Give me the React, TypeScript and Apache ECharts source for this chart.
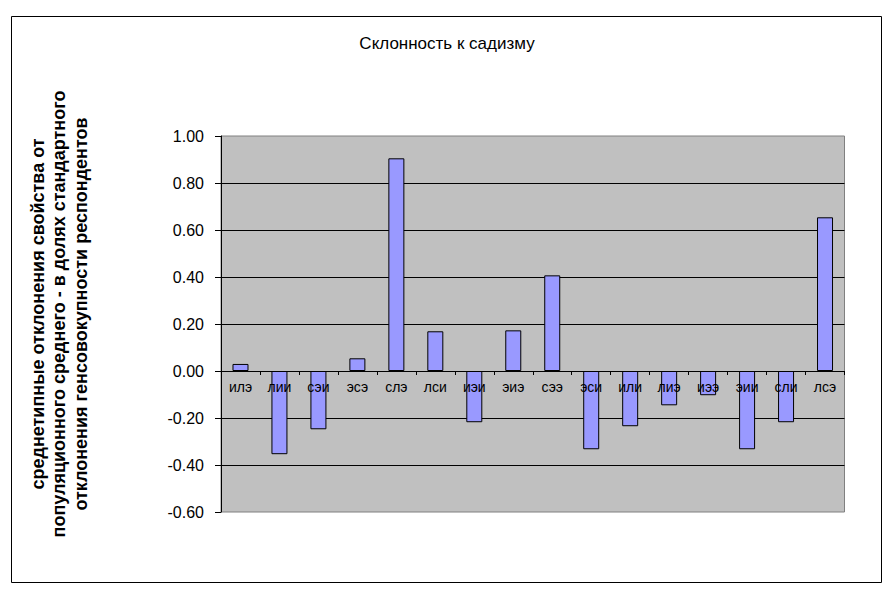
import React, { useEffect, useRef } from "react";
import * as echarts from "echarts";

const titleText = "Склонность к садизму";
const yAxisTitle = [
  "среднетипные отклонения свойства от",
  "популяционного среднего - в долях стандартного",
  "отклонения генсовокупности респондентов",
];
const categories = ["илэ", "лии", "сэи", "эсэ", "слэ", "лси", "иэи", "эиэ", "сээ", "эси", "или", "лиэ", "иээ", "эии", "сли", "лсэ"];
const values = [0.03, -0.354, -0.248, 0.054, 0.905, 0.169, -0.218, 0.173, 0.407, -0.333, -0.235, -0.146, -0.103, -0.333, -0.218, 0.654];
const yMin = -0.6;
const yMax = 1.0;
const yStep = 0.2;

const FONT = "'Liberation Sans', Arial, sans-serif";
const GRID_TOP = 136;
const GRID_HEIGHT = 376;

export default function App() {
  const ref = useRef<HTMLDivElement>(null);
  useEffect(() => {
    if (!ref.current) return;
    const chart = echarts.init(ref.current, undefined, { renderer: "svg" });
    // distance from the grid bottom to the value 0, used to lift the category axis onto zero
    const zeroOffset = (GRID_HEIGHT * (0 - yMin)) / (yMax - yMin);
    chart.setOption({
      animation: false,
      backgroundColor: "#ffffff",
      textStyle: { fontFamily: FONT },
      grid: {
        left: 221,
        top: GRID_TOP,
        width: 623.5,
        height: GRID_HEIGHT,
        show: true,
        backgroundColor: "#C0C0C0",
        borderColor: "#808080",
        borderWidth: 1,
        containLabel: false,
      },
      graphic: [
        {
          type: "rect",
          shape: { x: 11.5, y: 16.5, width: 870, height: 566 },
          style: { fill: "none", stroke: "#000000", lineWidth: 1 },
          silent: true,
          z: -10,
        },
        {
          type: "text",
          x: 447,
          y: 43,
          style: {
            text: titleText,
            font: `17px ${FONT}`,
            fill: "#000000",
            align: "center",
            verticalAlign: "middle",
          },
        },
        {
          type: "text",
          x: 59,
          y: 314,
          rotation: Math.PI / 2,
          style: {
            text: yAxisTitle.join("\n"),
            font: `bold 18px ${FONT}`,
            fill: "#000000",
            align: "center",
            verticalAlign: "middle",
            lineHeight: 21.5,
          },
        },
      ],
      xAxis: {
        type: "category",
        data: categories,
        position: "bottom",
        offset: -zeroOffset,
        z: 5,
        axisLine: { show: true, onZero: false, lineStyle: { color: "#000000", width: 1 } },
        axisTick: { show: true, length: 4, lineStyle: { color: "#000000" } },
        axisLabel: {
          interval: 0,
          margin: 9,
          color: "#000000",
          fontSize: 14,
          fontFamily: FONT,
        },
        splitLine: { show: false },
      },
      yAxis: {
        type: "value",
        min: yMin,
        max: yMax,
        interval: yStep,
        axisLine: { show: true, lineStyle: { color: "#000000", width: 1 } },
        axisTick: { show: true, length: 6, lineStyle: { color: "#000000" } },
        axisLabel: {
          margin: 17,
          color: "#000000",
          fontSize: 16,
          fontFamily: FONT,
          formatter: (v: number) => v.toFixed(2),
        },
        splitLine: {
          show: true,
          showMinLine: false,
          showMaxLine: false,
          lineStyle: { color: "#000000", width: 1 },
        },
      },
      series: [
        {
          type: "bar",
          data: values,
          barWidth: 16,
          itemStyle: { color: "#9999FF", borderColor: "#000000", borderWidth: 1 },
        },
      ],
    });
    return () => chart.dispose();
  }, []);
  return (
    <div
      ref={ref}
      style={{ position: "fixed", left: 0, top: 0, width: 894, height: 591, background: "#fff" }}
    />
  );
}
